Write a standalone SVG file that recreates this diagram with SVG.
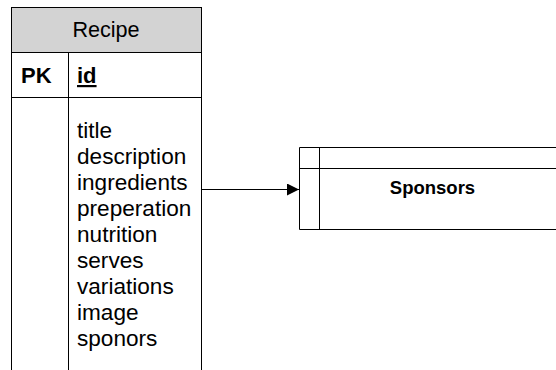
<svg xmlns="http://www.w3.org/2000/svg" width="556" height="370" viewBox="0 0 556 370">
<style>
.ln{stroke:#000;stroke-width:1;fill:none}
.t{font-family:"Liberation Sans",Arial,sans-serif;font-size:22.6px;fill:#000}
.b{font-weight:bold}
</style>
<defs>
<marker id="arr" viewBox="0 0 12 12" refX="12" refY="6" markerWidth="12" markerHeight="12" markerUnits="userSpaceOnUse" orient="auto">
<path d="M0,0 L12,6 L0,12 Z" fill="#000"/>
</marker>
</defs>
<rect width="556" height="370" fill="#fff"/>
<g id="recipe">
<rect x="11.5" y="7.5" width="190" height="45" fill="#d3d3d3" stroke="#000"/>
<path class="ln" d="M11.5,52.5 V371 M201.5,52.5 V371 M11.5,97.5 H201.5 M68.5,52.5 V371"/>
<text class="t" x="106" y="37" text-anchor="middle" style="font-size:21.6px">Recipe</text>
<text class="t b" x="21" y="83" style="font-size:22px">PK</text>
<text class="t b" x="77" y="83" style="font-size:22px" text-decoration="underline">id</text>
<text class="t" x="77">
<tspan x="77" y="137.5">title</tspan>
<tspan x="77" y="163.5">description</tspan>
<tspan x="77" y="189.5">ingredients</tspan>
<tspan x="77" y="215.5">preperation</tspan>
<tspan x="77" y="241.5">nutrition</tspan>
<tspan x="77" y="267.5">serves</tspan>
<tspan x="77" y="293.5">variations</tspan>
<tspan x="77" y="319.5">image</tspan>
<tspan x="77" y="345.5">sponors</tspan>
</text>
</g>
<g id="sponsors">
<path class="ln" d="M560,147.5 H299.5 V229.5 H560 M299.5,168.5 H560 M319.5,147.5 V229.5"/>
<text class="t b" x="432.5" y="194" text-anchor="middle" style="font-size:18.5px">Sponsors</text>
</g>
<g id="connectors">
<line class="ln" x1="202" y1="189.5" x2="299" y2="189.5" marker-end="url(#arr)"/>
</g>
</svg>
